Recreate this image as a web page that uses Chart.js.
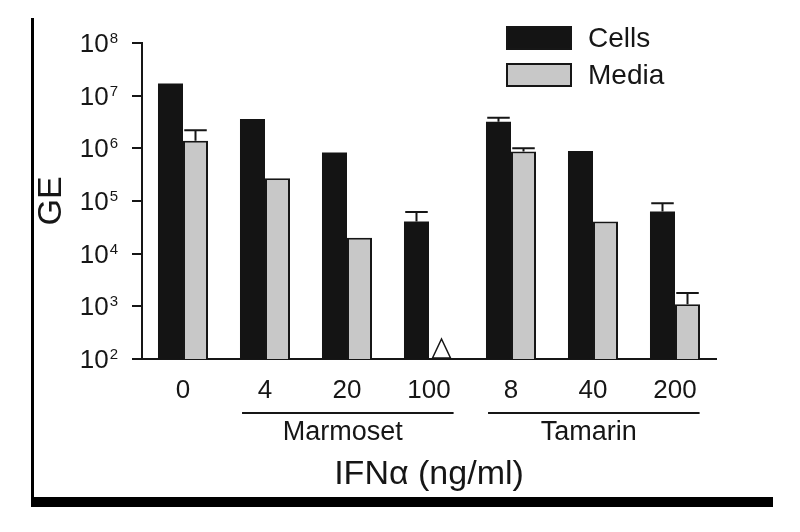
<!DOCTYPE html>
<html>
<head>
<meta charset="utf-8">
<title>GE vs IFNα</title>
<script src="https://cdn.jsdelivr.net/npm/chart.js@4.4.1/dist/chart.umd.min.js"></script>
<style>
  html, body { margin: 0; padding: 0; background: #fff; }
  #wrap { width: 800px; height: 532px; }
</style>
</head>
<body>
<div id="wrap"><canvas id="geChart" width="800" height="532"></canvas></div>
<script>
// values (log scale)
const doses = ['0', '4', '20', '100', '8', '40', '200'];
const cellsGE = [1.7e7, 3.6e6, 8.3e5, 4.1e4, 3.2e6, 8.9e5, 6.3e4];
const cellsErrTop = [null, null, null, 6.2e4, 3.8e6, null, 9.1e4];
const mediaGE = [1.4e6, 2.7e5, 2.0e4, null, 8.7e5, 4.1e4, 1.1e3];
const mediaErrTop = [2.2e6, null, null, null, 1.0e6, null, 1.8e3];
const mediaBelowLimit = [false, false, false, true, false, false, false];
const yTickValues = [1e2, 1e3, 1e4, 1e5, 1e6, 1e7, 1e8];
const groups = [
    { name: 'Marmoset', first: 1, last: 3 },
    { name: 'Tamarin', first: 4, last: 6 }
];

const ink = '#161616';
const fontFamily = '"Liberation Sans", Arial, sans-serif';
Chart.defaults.font.family = fontFamily;

// upward error bars on top of each bar
const errorBars = {
    id: 'errorBars',
    afterDatasetsDraw(chart) {
        const ctx = chart.ctx;
        const yScale = chart.scales.y;
        [cellsErrTop, mediaErrTop].forEach((errs, di) => {
            const meta = chart.getDatasetMeta(di);
            errs.forEach((top, i) => {
                if (top == null) return;
                const bar = meta.data[i];
                const yTop = yScale.getPixelForValue(top);
                const half = bar.width * 0.45;
                ctx.save();
                ctx.strokeStyle = ink;
                ctx.lineWidth = 2;
                ctx.beginPath();
                ctx.moveTo(bar.x, bar.y);
                ctx.lineTo(bar.x, yTop);
                ctx.moveTo(bar.x - half, yTop);
                ctx.lineTo(bar.x + half, yTop);
                ctx.stroke();
                ctx.restore();
            });
        });
    }
};

// open triangle for media values below detection
const belowLimit = {
    id: 'belowLimit',
    afterDatasetsDraw(chart) {
        const ctx = chart.ctx;
        const meta = chart.getDatasetMeta(1);
        const base = chart.scales.y.getPixelForValue(yTickValues[0]);
        mediaBelowLimit.forEach((flag, i) => {
            if (!flag) return;
            const x = meta.data[i].x;
            ctx.save();
            ctx.fillStyle = '#fff';
            ctx.strokeStyle = ink;
            ctx.lineWidth = 1.5;
            ctx.beginPath();
            ctx.moveTo(x - 9, base - 1);
            ctx.lineTo(x, base - 20);
            ctx.lineTo(x + 9, base - 1);
            ctx.closePath();
            ctx.fill();
            ctx.stroke();
            ctx.restore();
        });
    }
};

// "10" with a raised exponent next to each y tick
const powerLabels = {
    id: 'powerLabels',
    afterDraw(chart) {
        const ctx = chart.ctx;
        const yScale = chart.scales.y;
        const right = yScale.right - 10 - 15;
        ctx.save();
        ctx.fillStyle = ink;
        ctx.textBaseline = 'alphabetic';
        yTickValues.forEach(v => {
            const y = yScale.getPixelForValue(v);
            const exp = String(Math.round(Math.log10(v)));
            ctx.font = '15px ' + fontFamily;
            const expW = ctx.measureText(exp).width;
            ctx.textAlign = 'left';
            ctx.fillText(exp, right - expW + 1, y - 0);
            ctx.font = '26px ' + fontFamily;
            ctx.textAlign = 'right';
            ctx.fillText('10', right - expW, y + 9);
        });
        ctx.restore();
    }
};

// legend boxes in the upper right
const boxLegend = {
    id: 'boxLegend',
    afterDraw(chart) {
        const ctx = chart.ctx;
        const area = chart.chartArea;
        const left = area.right - 210;
        chart.data.datasets.forEach((ds, i) => {
            const top = area.top - 17 + i * 37;
            ctx.save();
            ctx.fillStyle = ds.backgroundColor;
            ctx.fillRect(left, top, 66, 24);
            ctx.strokeStyle = ink;
            ctx.lineWidth = 2;
            ctx.strokeRect(left + 1, top + 1, 64, 22);
            ctx.fillStyle = ink;
            ctx.font = '28px ' + fontFamily;
            ctx.textBaseline = 'middle';
            ctx.textAlign = 'left';
            ctx.fillText(ds.label, left + 82, top + 13);
            ctx.restore();
        });
    }
};

// species lines and names under the dose labels
const groupLabels = {
    id: 'groupLabels',
    afterDraw(chart) {
        const ctx = chart.ctx;
        const xScale = chart.scales.x;
        const bottom = chart.chartArea.bottom;
        const step = xScale.getPixelForValue(1) - xScale.getPixelForValue(0);
        groups.forEach(g => {
            const x0 = xScale.getPixelForValue(g.first) - step * 0.28;
            const x1 = xScale.getPixelForValue(g.last) + step * 0.3;
            ctx.save();
            ctx.strokeStyle = ink;
            ctx.lineWidth = 2;
            ctx.beginPath();
            ctx.moveTo(x0, bottom + 54);
            ctx.lineTo(x1, bottom + 54);
            ctx.stroke();
            ctx.fillStyle = ink;
            ctx.font = '27px ' + fontFamily;
            ctx.textAlign = 'center';
            ctx.textBaseline = 'middle';
            ctx.fillText(g.name, (x0 + x1) / 2 - 5, bottom + 74);
            ctx.restore();
        });
    }
};

// frame of the figure panel: left rule and heavy bottom rule
const panelFrame = {
    id: 'panelFrame',
    afterDraw(chart) {
        const ctx = chart.ctx;
        ctx.save();
        ctx.fillStyle = '#000';
        ctx.fillRect(31, 18, 3, 489);
        ctx.fillRect(31, 497, 742, 10);
        ctx.restore();
    }
};

new Chart(document.getElementById('geChart'), {
    type: 'bar',
    data: {
        labels: doses,
        datasets: [
            {
                label: 'Cells',
                data: cellsGE,
                backgroundColor: '#141414',
                borderWidth: 0
            },
            {
                label: 'Media',
                data: mediaGE,
                backgroundColor: '#c8c8c8',
                borderColor: ink,
                borderWidth: { top: 2, right: 2, left: 2, bottom: 0 }
            }
        ]
    },
    options: {
        responsive: false,
        animation: false,
        devicePixelRatio: 1,
        layout: { padding: { top: 43, right: 84, left: 0, bottom: 0 } },
        datasets: { bar: { barPercentage: 1, categoryPercentage: 0.61 } },
        plugins: {
            legend: { display: false },
            tooltip: { enabled: false }
        },
        scales: {
            x: {
                grid: { display: false, drawTicks: false },
                border: { display: true, color: ink, width: 2 },
                ticks: {
                    color: ink,
                    font: { size: 26 },
                    padding: 16,
                    maxRotation: 0,
                    autoSkip: false
                },
                title: {
                    display: true,
                    text: 'IFNα (ng/ml)',
                    color: ink,
                    font: { size: 34 },
                    padding: { top: 0, bottom: 37 }
                },
                afterFit: s => { s.height = 173; }
            },
            y: {
                type: 'logarithmic',
                min: 1e2,
                max: 1e8,
                afterBuildTicks: s => { s.ticks = yTickValues.map(v => ({ value: v })); },
                grid: { drawOnChartArea: false, drawTicks: true, tickLength: 10, color: ink, lineWidth: 2 },
                border: { display: true, color: ink, width: 2 },
                ticks: { display: false },
                title: {
                    display: true,
                    text: 'GE',
                    color: ink,
                    font: { size: 34 },
                    padding: { top: 31, bottom: 0 }
                },
                afterFit: s => { s.width = 142; }
            }
        }
    },
    plugins: [errorBars, belowLimit, powerLabels, boxLegend, groupLabels, panelFrame]
});
</script>
</body>
</html>
